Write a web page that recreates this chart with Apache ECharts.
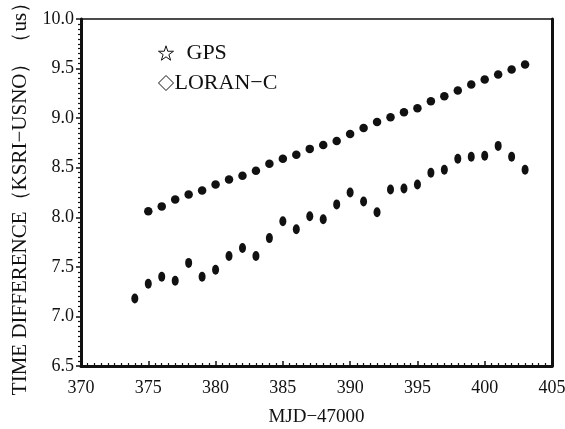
<!DOCTYPE html>
<html>
<head>
<meta charset="utf-8">
<script src="https://cdn.jsdelivr.net/npm/echarts@6/dist/echarts.min.js"></script>
<style>html,body{margin:0;padding:0;background:#fff;}#c{width:565px;height:429px;}</style>
</head>
<body>
<div id="c"></div>
<script>
const mjd = [374,375,376,377,378,379,380,381,382,383,384,385,386,387,388,389,390,391,392,393,394,395,396,397,398,399,400,401,402,403];
const gpsMjd = [375,376,377,378,379,380,381,382,383,384,385,386,387,388,389,390,391,392,393,394,395,396,397,398,399,400,401,402,403];
const gpsValues = [8.06,8.11,8.18,8.23,8.27,8.33,8.38,8.42,8.47,8.54,8.59,8.63,8.69,8.73,8.77,8.84,8.90,8.96,9.01,9.06,9.10,9.17,9.22,9.28,9.34,9.39,9.44,9.49,9.54];
const loranValues = [7.18,7.33,7.40,7.36,7.54,7.40,7.47,7.61,7.69,7.61,7.79,7.96,7.88,8.01,7.98,8.13,8.25,8.16,8.05,8.28,8.29,8.33,8.45,8.48,8.59,8.61,8.62,8.72,8.61,8.48];
const xTicks = [370,375,380,385,390,395,400,405];
const yTicks = [6.5,7.0,7.5,8.0,8.5,9.0,9.5,10.0];

const serif = '"Liberation Serif","DejaVu Serif",serif';
const ink = '#111';
const chart = echarts.init(document.getElementById('c'));
const starPath = 'path://M50,2 L61,36 L97,36 L68,57 L79,92 L50,71 L21,92 L32,57 L3,36 L39,36 Z';

chart.setOption({
  animation: false,
  backgroundColor: '#fff',
  grid: { left: 81, right: 13, top: 19, bottom: 63, containLabel: false, outerBoundsMode: 'none' },
  legend: {
    orient: 'vertical', left: 153, top: 37, itemGap: 8,
    itemWidth: 15, itemHeight: 15,
    textStyle: { fontFamily: serif, fontSize: 22, color: ink },
    data: [
      { name: 'GPS', icon: starPath, itemStyle: { color: '#fff', borderColor: ink, borderWidth: 1 }, textStyle: { padding: [0,0,0,8] } },
      { name: 'LORAN\u2212C', icon: 'diamond', itemStyle: { color: '#fff', borderColor: ink, borderWidth: 1 }, textStyle: { padding: [0,0,0,-4] } }
    ]
  },
  xAxis: [{
    type: 'value', min: xTicks[0], max: xTicks[xTicks.length-1], interval: 5,
    name: 'MJD\u221247000', nameLocation: 'middle', nameGap: 42,
    nameTextStyle: { fontFamily: serif, fontSize: 19, color: ink },
    axisLine: { show: true, onZero: false, lineStyle: { color: ink, width: 3 } },
    axisTick: { show: true, inside: true, length: 5, lineStyle: { color: ink, width: 1.5 } },
    minorTick: { show: true, splitNumber: 10, length: 3, lineStyle: { color: ink, width: 1.2 } },
    splitLine: { show: false },
    axisLabel: { fontFamily: serif, fontSize: 18, color: ink, margin: 13 }
  }, {
    type: 'value', position: 'top', min: 370, max: 405,
    axisLine: { show: true, onZero: false, lineStyle: { color: ink, width: 1.5 } },
    axisTick: { show: false }, axisLabel: { show: false }, splitLine: { show: false }
  }],
  yAxis: [{
    type: 'value', min: yTicks[0], max: yTicks[yTicks.length-1], interval: 0.5,
    name: 'TIME DIFFERENCE\uff08KSRI\u2212USNO\uff09\uff08us\uff09', nameLocation: 'middle', nameGap: 50,
    nameTextStyle: { fontFamily: serif, fontSize: 21, color: ink, padding: [0, 2, 0, 0] },
    axisLine: { show: true, onZero: false, lineStyle: { color: ink, width: 3 } },
    axisTick: { show: true, inside: false, length: 5, lineStyle: { color: ink, width: 1.5 } },
    minorTick: { show: true, splitNumber: 10, length: 3, lineStyle: { color: ink, width: 1.2 } },
    splitLine: { show: false },
    axisLabel: { fontFamily: serif, fontSize: 18, color: ink, margin: 7, formatter: v => v.toFixed(1) }
  }, {
    type: 'value', position: 'right', min: 6.5, max: 10,
    axisLine: { show: true, onZero: false, lineStyle: { color: ink, width: 3 } },
    axisTick: { show: false }, axisLabel: { show: false }, splitLine: { show: false }
  }],
  series: [{
    name: 'GPS', type: 'scatter', symbol: 'circle', symbolSize: 8.5,
    itemStyle: { color: ink, opacity: 1 },
    data: gpsMjd.map((x, i) => [x, gpsValues[i]])
  }, {
    name: 'LORAN\u2212C', type: 'scatter', symbol: 'circle', symbolSize: [7, 10],
    itemStyle: { color: ink, opacity: 1 },
    data: mjd.map((x, i) => [x, loranValues[i]])
  }]
});
</script>
</body>
</html>
